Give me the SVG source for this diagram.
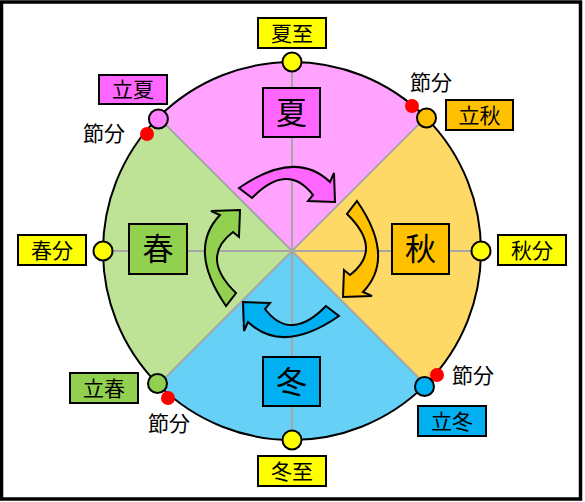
<svg xmlns="http://www.w3.org/2000/svg" width="585" height="502" viewBox="0 0 585 502">
<style>
.lbl{stroke:#000;stroke-width:2}
.t{font-family:"Noto Sans CJK JP","Noto Sans CJK SC",sans-serif;font-size:21px;text-anchor:middle;fill:#000}
.big{font-family:"Noto Sans CJK JP","Noto Sans CJK SC",sans-serif;font-size:31px;text-anchor:middle;fill:#000}
.dot{stroke:#000;stroke-width:2}
.red{fill:#FF0000}
.ax{stroke:#A6A6A6;stroke-width:2;fill:none}
.arr{stroke:#000;stroke-width:2;stroke-linejoin:miter}
</style>
<defs>
<path id="arrow" d="M239,188 Q295.5,149 330,182 L334,173 L335,202 L308,201 L313,195 Q287.5,161.5 252,198 Z"/>
</defs>
<rect x="1.5" y="2" width="579" height="497" fill="#FFFFFF" stroke="#000" stroke-width="3.5"/>
<g id="wheel">
<path d="M292,251 L158.4,117.4 A189,189 0 0 1 425.6,117.4 Z" fill="#FFA3FF"/>
<path d="M292,251 L425.6,117.4 A189,189 0 0 1 425.6,384.6 Z" fill="#FFD966"/>
<path d="M292,251 L425.6,384.6 A189,189 0 0 1 158.4,384.6 Z" fill="#66D0F6"/>
<path d="M292,251 L158.4,384.6 A189,189 0 0 1 158.4,117.4 Z" fill="#BEE396"/>
<line class="ax" x1="103" y1="251" x2="481" y2="251"/>
<line class="ax" x1="292" y1="62" x2="292" y2="440"/>
<line class="ax" x1="158.4" y1="117.4" x2="425.6" y2="384.6"/>
<line class="ax" x1="425.6" y1="117.4" x2="158.4" y2="384.6"/>
<circle cx="292" cy="251" r="189" fill="none" stroke="#000" stroke-width="2"/>
</g>
<g id="arrows">
<use href="#arrow" class="arr" fill="#FF66FF"/>
<use href="#arrow" class="arr" fill="#FFC000" transform="rotate(90 291.5 253.5)"/>
<use href="#arrow" class="arr" fill="#00B0F0" transform="translate(-5 -3) rotate(180 291.5 253.5)"/>
<use href="#arrow" class="arr" fill="#92D050" transform="rotate(-90 291.5 253.5)"/>
</g>
<g id="season-summer"><rect class="lbl" x="263" y="88" width="57" height="49" fill="#FF66FF"/><text class="big" x="291.5" y="123.5">夏</text></g>
<g id="season-autumn"><rect class="lbl" x="392" y="224" width="57" height="50" fill="#FFC000"/><text class="big" x="420.5" y="260">秋</text></g>
<g id="season-winter"><rect class="lbl" x="263" y="357" width="57" height="49" fill="#00B0F0"/><text class="big" x="291.5" y="392.5">冬</text></g>
<g id="season-spring"><rect class="lbl" x="129" y="224" width="58" height="50" fill="#92D050"/><text class="big" x="158" y="260">春</text></g>
<g id="geshi"><circle class="dot" cx="292" cy="62" r="9.5" fill="#FFFF00"/><rect class="lbl" x="258" y="18" width="68" height="30" fill="#FFFF00"/><text class="t" x="292" y="40.5">夏至</text></g>
<g id="shubun"><circle class="dot" cx="481" cy="251" r="9.5" fill="#FFFF00"/><rect class="lbl" x="498" y="235" width="68" height="30" fill="#FFFF00"/><text class="t" x="532" y="257.5">秋分</text></g>
<g id="toji"><circle class="dot" cx="292" cy="440" r="9.5" fill="#FFFF00"/><rect class="lbl" x="258" y="456" width="68" height="30" fill="#FFFF00"/><text class="t" x="292" y="478.5">冬至</text></g>
<g id="shunbun"><circle class="dot" cx="103" cy="251" r="9.5" fill="#FFFF00"/><rect class="lbl" x="18" y="235" width="68" height="30" fill="#FFFF00"/><text class="t" x="52" y="257.5">春分</text></g>
<g id="rikka"><circle class="red" cx="147" cy="134" r="7"/><circle class="dot" cx="158.4" cy="119" r="9.5" fill="#FF80FF"/><rect class="lbl" x="99" y="75" width="68" height="29" fill="#FF66FF"/><text class="t" x="133" y="97">立夏</text><text class="t" x="104" y="140.5">節分</text></g>
<g id="risshu"><circle class="red" cx="412" cy="106" r="7"/><circle class="dot" cx="426.5" cy="118" r="9.5" fill="#FFC000"/><rect class="lbl" x="446" y="100" width="67" height="30" fill="#FFC000"/><text class="t" x="479.5" y="122.5">立秋</text><text class="t" x="431" y="89.5">節分</text></g>
<g id="ritto"><circle class="red" cx="437" cy="375" r="7"/><circle class="dot" cx="424.5" cy="386.5" r="9.5" fill="#00B0F0"/><rect class="lbl" x="418" y="406" width="68" height="30" fill="#00B0F0"/><text class="t" x="452" y="428.5">立冬</text><text class="t" x="473" y="382.5">節分</text></g>
<g id="risshun"><circle class="red" cx="168" cy="398" r="7"/><circle class="dot" cx="157.5" cy="383.5" r="9.5" fill="#92D050"/><rect class="lbl" x="70" y="373" width="68" height="30" fill="#92D050"/><text class="t" x="104" y="395.5">立春</text><text class="t" x="169" y="430.5">節分</text></g>
</svg>
